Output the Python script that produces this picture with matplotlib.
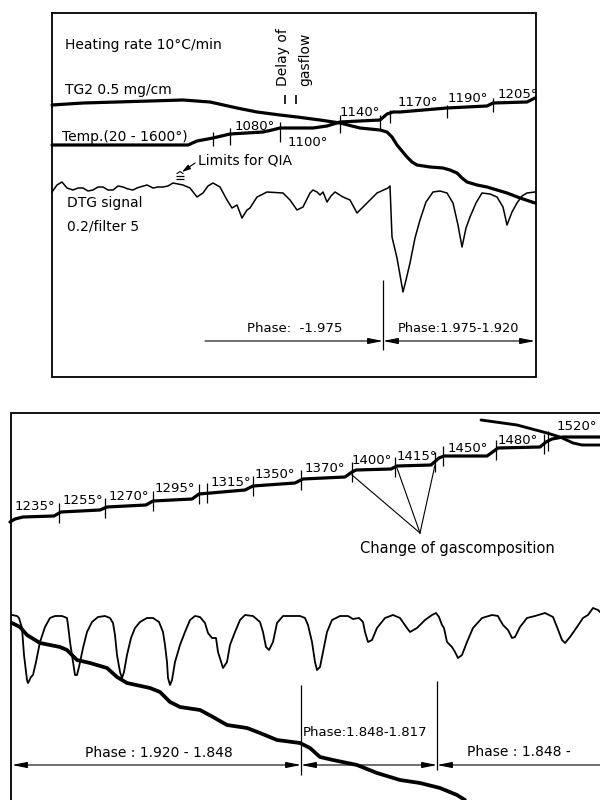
import numpy as np
import matplotlib
matplotlib.use('Agg')
import matplotlib.pyplot as plt

plt.rcParams['font.family'] = ['DejaVu Sans']

# ---------------- data (figure pixel coordinates, y downward) ----------------
# top panel
top_frame_x = [52, 536, 536, 52, 52]
top_frame_y = [13, 13, 377, 377, 13]

tg1_x = [52, 83, 117, 150, 183, 210, 237, 257, 280, 297, 320, 340, 360, 380, 387,
         392, 397, 402, 407, 412, 417, 430, 443, 450, 457, 462, 467, 477, 487, 497,
         507, 520, 535]
tg1_y = [105, 103, 102, 101, 100, 102, 108, 112, 115, 117, 120, 123, 128, 130, 132,
         137, 145, 151, 157, 162, 165, 167, 168, 170, 173, 178, 182, 185, 187, 190,
         193, 198, 203]

temp1_x = [52, 188, 197, 213, 230, 263, 272, 280, 300, 313, 327, 340, 380, 387, 393,
           400, 447, 487, 493, 527, 535]
temp1_y = [145, 145, 141, 138, 134, 132, 130, 128, 128, 128, 126, 122, 120, 114, 112,
           112, 108, 106, 103, 102, 98]

dtg1_x = [52, 57, 62, 67, 73, 78, 83, 88, 93, 98, 103, 108, 113, 118, 123, 128, 133,
          137, 140, 147, 153, 158, 163, 168, 173, 178, 183, 190, 197, 203, 208, 213,
          220, 227, 232, 237, 242, 247, 250, 257, 267, 283, 290, 297, 303, 310, 313,
          317, 320, 323, 327, 331, 335, 343, 350, 357, 362, 367, 377, 388, 390, 392,
          397, 403, 406, 410, 415, 420, 426, 433, 440, 447, 453, 458, 462, 466, 470,
          476, 482, 490, 497, 503, 507, 512, 517, 522, 527, 535]
dtg1_y = [192, 185, 182, 188, 190, 188, 188, 191, 190, 187, 187, 190, 190, 186, 187,
          189, 190, 188, 187, 185, 188, 187, 187, 186, 183, 184, 185, 188, 197, 193,
          186, 183, 187, 200, 208, 205, 218, 210, 208, 197, 192, 193, 200, 210, 207,
          193, 190, 192, 195, 192, 202, 196, 192, 197, 200, 213, 208, 203, 193, 188,
          186, 237, 258, 292, 280, 263, 238, 220, 202, 192, 191, 193, 203, 225, 247,
          228, 217, 203, 193, 194, 197, 207, 225, 212, 203, 196, 193, 192]

top_tick_x = [213, 230, 280, 340, 380, 390, 447, 493]
top_tick_lo = [132, 128, 122, 115, 115, 110, 105, 98]
top_tick_hi = [146, 145, 142, 133, 130, 123, 118, 112]

top_temp_labels = ['1080°', '1100°', '1140°', '1170°', '1190°', '1205°']
top_temp_label_x = [235, 288, 340, 398, 448, 498]
top_temp_label_y = [127, 142, 112, 103, 98, 94]

# bottom panel
bot_frame_x = [600, 11, 11]
bot_frame_y = [413, 413, 800]

temp2_x = [10, 15, 23, 54, 61, 100, 107, 146, 153, 192, 199, 245, 253, 295, 303, 345,
           352, 356, 391, 397, 431, 439, 444, 487, 494, 498, 540, 546, 552, 563, 600]
temp2_y = [522, 519, 517, 516, 512, 510, 507, 505, 501, 499, 494, 490, 486, 483, 479,
           477, 472, 470, 469, 466, 465, 458, 456, 456, 451, 448, 447, 442, 439, 437, 437]

tg2a_x = [481, 517, 547, 560, 573, 582, 600]
tg2a_y = [420, 425, 433, 437, 443, 445, 445]

bot_tick_x = [59, 105, 153, 199, 207, 253, 301, 352, 395, 435, 443, 496, 544, 548]

bot_temp_labels = ['1235°', '1255°', '1270°', '1295°', '1315°', '1350°', '1370°',
                   '1400°', '1415°', '1450°', '1480°', '1520°']
bot_temp_label_x = [15, 63, 109, 155, 211, 255, 305, 352, 397, 448, 498, 557]
bot_temp_label_y = [507, 501, 497, 488, 482, 475, 468, 460, 456, 448, 440, 427]

gas_apex = (420, 533)
gas_targets_x = [352, 397, 435]
gas_targets_y = [475, 468, 465]

dtg2_x = [12, 17, 19, 22, 24, 27, 28, 31, 33, 36, 40, 45, 50, 55, 62, 67, 68, 70, 73,
          75, 77, 79, 83, 87, 92, 98, 105, 110, 113, 115, 117, 120, 122, 124, 127, 131,
          135, 140, 147, 153, 159, 163, 165, 167, 168, 170, 172, 175, 180, 185, 190,
          195, 200, 205, 208, 212, 216, 218, 222, 223, 227, 230, 235, 240, 245, 253,
          260, 263, 266, 269, 273, 277, 283, 300, 305, 308, 312, 315, 317, 320, 323,
          327, 332, 340, 348, 353, 359, 363, 365, 368, 372, 377, 385, 393, 400, 407,
          410, 417, 425, 432, 436, 439, 442, 444, 447, 452, 455, 458, 462, 467, 473,
          482, 492, 498, 500, 503, 508, 512, 515, 520, 527, 535, 545, 553, 557, 562,
          565, 570, 577, 583, 588, 593, 598, 600]
dtg2_y = [615, 616, 618, 628, 655, 680, 683, 677, 675, 662, 642, 627, 618, 616, 616,
          618, 625, 642, 662, 675, 675, 667, 648, 632, 622, 617, 616, 618, 623, 635,
          655, 672, 678, 672, 655, 638, 628, 622, 618, 618, 622, 632, 645, 662, 678,
          685, 680, 662, 645, 632, 620, 616, 617, 623, 633, 638, 638, 652, 665, 668,
          662, 645, 632, 620, 615, 616, 622, 632, 647, 650, 642, 623, 616, 616, 618,
          625, 642, 662, 670, 667, 652, 632, 620, 616, 616, 619, 618, 622, 632, 642,
          640, 628, 618, 615, 618, 628, 632, 628, 620, 615, 613, 617, 625, 628, 642,
          647, 652, 658, 655, 642, 628, 618, 615, 616, 620, 625, 630, 638, 637, 627,
          618, 616, 613, 617, 627, 640, 643, 637, 627, 618, 615, 608, 610, 612]

tg2_x = [12, 20, 27, 40, 60, 67, 77, 90, 107, 117, 127, 150, 160, 170, 180, 200, 213,
         227, 247, 260, 277, 300, 310, 320, 333, 357, 377, 400, 420, 440, 457, 465]
tg2_y = [623, 627, 635, 643, 647, 650, 660, 663, 668, 677, 683, 688, 692, 702, 707,
         710, 717, 725, 728, 733, 740, 743, 748, 757, 760, 765, 773, 780, 783, 788, 795, 800]

# ---------------- drawing ----------------
fig = plt.figure(figsize=(6, 8), dpi=100)
ax = fig.add_axes([0, 0, 1, 1])
ax.set_xlim(0, 600)
ax.set_ylim(800, 0)
ax.axis('off')

K = 'black'
THICK = 2.3
THIN = 1.1

# frames
ax.plot(top_frame_x, top_frame_y, color=K, lw=1.3, solid_joinstyle='miter')
ax.plot(bot_frame_x, bot_frame_y, color=K, lw=1.3, solid_joinstyle='miter')

# top curves
ax.plot(tg1_x, tg1_y, color=K, lw=THICK, solid_capstyle='round', solid_joinstyle='round')
ax.plot(temp1_x, temp1_y, color=K, lw=THICK, solid_capstyle='round', solid_joinstyle='round')
ax.plot(dtg1_x, dtg1_y, color=K, lw=THIN, solid_joinstyle='round')
ax.vlines(top_tick_x, top_tick_lo, top_tick_hi, color=K, lw=0.9)

for s, x, y in zip(top_temp_labels, top_temp_label_x, top_temp_label_y):
    ax.text(x, y, s, ha='left', va='center', fontsize=9.5)

FS = 10
ax.text(65, 45, 'Heating rate 10°C/min', ha='left', va='center', fontsize=FS)
ax.text(65, 90, 'TG2 0.5 mg/cm', ha='left', va='center', fontsize=FS)
ax.text(62, 137, 'Temp.(20 - 1600°)', ha='left', va='center', fontsize=FS)
ax.text(198, 160, 'Limits for QIA', ha='left', va='center', fontsize=FS)
ax.text(67, 203, 'DTG signal', ha='left', va='center', fontsize=FS)
ax.text(67, 226, '0.2/filter 5', ha='left', va='center', fontsize=FS)
ax.text(283, 86, 'Delay of', rotation=90, ha='center', va='bottom', fontsize=FS)
ax.text(305, 86, 'gasflow', rotation=90, ha='center', va='bottom', fontsize=FS)
ax.vlines([285, 296], 95, 104, color=K, lw=1.2)

# limits for QIA pointer and symbol
ax.annotate('', xy=(182, 172), xytext=(195, 163),
            arrowprops=dict(arrowstyle='-|>,head_length=0.5,head_width=0.15',
                            color=K, lw=0.8, shrinkA=0, shrinkB=0))
ax.hlines([175.5, 178.5], 176, 184, color=K, lw=0.9)
ax.plot([177, 180, 183], [173.5, 171.5, 173.5], color=K, lw=0.8)

# top phase annotation
ARW = '-|>,head_length=0.9,head_width=0.18'
ARW2 = '<|-|>,head_length=0.9,head_width=0.18'
ax.vlines(383, 280, 350, color=K, lw=0.9)
ax.annotate('', xy=(383, 341), xytext=(205, 341),
            arrowprops=dict(arrowstyle=ARW, color=K, lw=0.8, shrinkA=0, shrinkB=0))
ax.annotate('', xy=(535, 341), xytext=(383, 341),
            arrowprops=dict(arrowstyle=ARW2, color=K, lw=0.8, shrinkA=0, shrinkB=0))
ax.text(247, 329, 'Phase:  -1.975', ha='left', va='center', fontsize=9.5)
ax.text(398, 329, 'Phase:1.975-1.920', ha='left', va='center', fontsize=9.3)

# bottom curves
ax.plot(temp2_x, temp2_y, color=K, lw=THICK, solid_capstyle='round', solid_joinstyle='round')
ax.plot(tg2a_x, tg2a_y, color=K, lw=THICK * 0.9, solid_capstyle='round')
ax.plot(dtg2_x, dtg2_y, color=K, lw=THIN + 0.2, solid_joinstyle='round')
ax.plot(tg2_x, tg2_y, color=K, lw=THICK + 0.4, solid_capstyle='round', solid_joinstyle='round')

tick_c = np.interp(bot_tick_x, temp2_x, temp2_y)
ax.vlines(bot_tick_x, tick_c - 10, tick_c + 10, color=K, lw=0.9)

for s, x, y in zip(bot_temp_labels, bot_temp_label_x, bot_temp_label_y):
    ax.text(x, y, s, ha='left', va='center', fontsize=9.5)

for tx, ty in zip(gas_targets_x, gas_targets_y):
    ax.plot([gas_apex[0], tx], [gas_apex[1], ty], color=K, lw=0.8)
ax.text(360, 548, 'Change of gascomposition', ha='left', va='center', fontsize=10.5)

# bottom phase annotation
ax.vlines(301, 685, 775, color=K, lw=0.9)
ax.vlines(437, 681, 770, color=K, lw=0.9)
ax.annotate('', xy=(301, 765), xytext=(12, 765),
            arrowprops=dict(arrowstyle=ARW2, color=K, lw=0.8, shrinkA=0, shrinkB=0))
ax.annotate('', xy=(437, 765), xytext=(301, 765),
            arrowprops=dict(arrowstyle=ARW2, color=K, lw=0.8, shrinkA=0, shrinkB=0))
ax.annotate('', xy=(437, 765), xytext=(600, 765),
            arrowprops=dict(arrowstyle=ARW, color=K, lw=0.8, shrinkA=0, shrinkB=0))
ax.text(85, 753, 'Phase : 1.920 - 1.848', ha='left', va='center', fontsize=10)
ax.text(303, 733, 'Phase:1.848-1.817', ha='left', va='center', fontsize=9.5)
ax.text(467, 752, 'Phase : 1.848 -', ha='left', va='center', fontsize=10)

fig.savefig('out.png', dpi=100, facecolor='white')
